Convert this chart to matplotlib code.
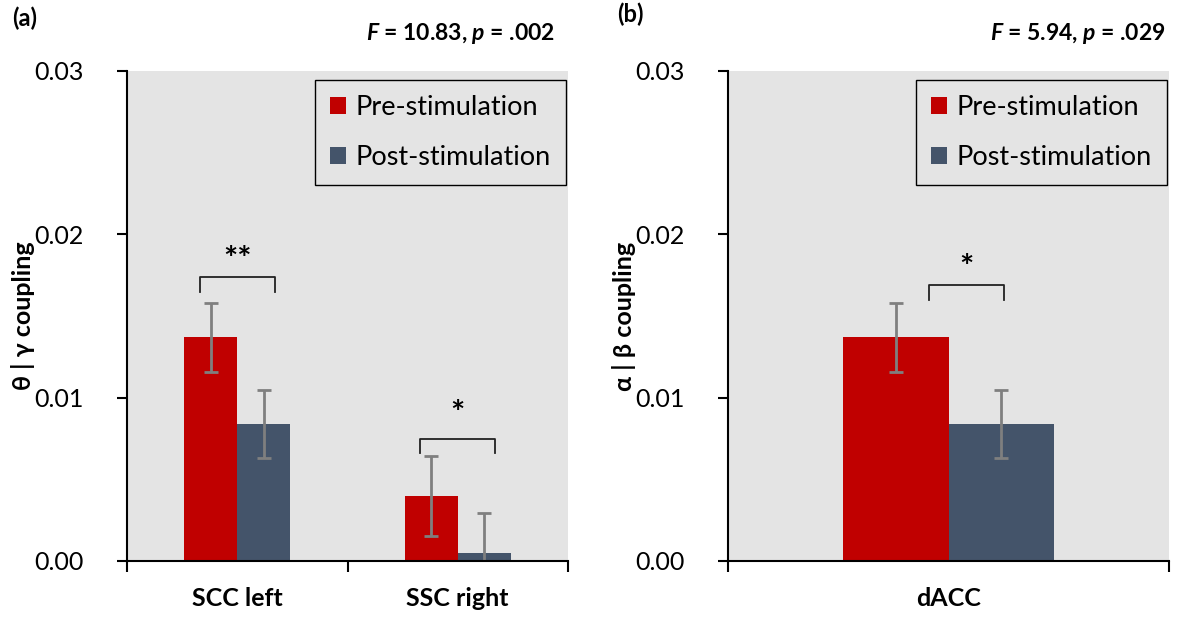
import matplotlib.pyplot as plt
import numpy as np

plt.rcParams['font.family'] = ['Lato', 'DejaVu Sans']
plt.rcParams['mathtext.fontset'] = 'custom'
plt.rcParams['mathtext.rm'] = 'Lato'
plt.rcParams['mathtext.bf'] = 'Lato:bold'
plt.rcParams['mathtext.bfit'] = 'Lato:bold:italic'

# data
cats_a = ['SCC left', 'SSC right']
pre_a = [0.0137, 0.0040]
post_a = [0.0084, 0.0005]
pre_err_a = [0.0021, 0.00245]
post_err_a = [0.0021, 0.00245]

cats_b = ['dACC']
pre_b = [0.0137]
post_b = [0.0084]
pre_err_b = [0.0021]
post_err_b = [0.0021]

# significance brackets: (x0, x1, y_top, y_tip, label, label_x, label_y)
sig_a = [(-0.17, 0.17, 0.0174, 0.0165, '**', 0.0, 0.0184),
         (0.83, 1.17, 0.0075, 0.0066, '*', 1.0, 0.0090)]
sig_b = [(-0.044, 0.126, 0.0169, 0.0160, '*', 0.04, 0.0179)]

red = '#C00000'
blue = '#44546A'
bg = '#E4E4E4'
w = 0.24

fig = plt.figure(figsize=(11.77, 6.21), dpi=100)
ax1 = fig.add_axes([127/1177, 60/621, 441/1177, 490/621])
ax2 = fig.add_axes([728/1177, 60/621, 441/1177, 490/621])


def draw(ax, cats, pre, post, pre_err, post_err, sig, ylab):
    x = np.arange(len(cats))
    ax.set_facecolor(bg)
    ekw = dict(ecolor='#7F7F7F', elinewidth=2, capsize=5, capthick=2)
    ax.bar(x - w/2, pre, w, yerr=pre_err, color=red, label='Pre-stimulation', error_kw=ekw, zorder=2)
    ax.bar(x + w/2, post, w, yerr=post_err, color=blue, label='Post-stimulation', error_kw=ekw, zorder=2)
    ax.set_xlim(-0.5, len(cats) - 0.5)
    ax.set_ylim(0, 0.03)
    ax.set_yticks([0, 0.01, 0.02, 0.03])
    ax.set_yticklabels(['0.00', '0.01', '0.02', '0.03'], fontsize=18)
    ax.set_xticks(np.arange(len(cats) + 1) - 0.5)
    ax.set_xticklabels([])
    ax.set_xticks(x, minor=True)
    ax.set_xticklabels(cats, minor=True, fontsize=18, fontweight='bold')
    ax.tick_params(axis='x', which='minor', length=0, pad=19)
    ax.tick_params(axis='x', which='major', length=8, width=1.5)
    ax.tick_params(axis='y', length=7, width=1.5, pad=24)
    for s in ['top', 'right']:
        ax.spines[s].set_visible(False)
    for s in ['left', 'bottom']:
        ax.spines[s].set_linewidth(1.5)
    ax.set_ylabel(ylab, fontsize=18, fontweight='bold', labelpad=0)
    for x0, x1, yt, yb, lab, lx, ly in sig:
        ax.plot([x0, x0, x1, x1], [yb, yt, yt, yb], color='#222222', lw=1.3, zorder=3)
        ax.text(lx, ly, lab, ha='center', va='center', fontsize=24, fontweight='bold')
    ax.legend(loc='upper right', bbox_to_anchor=(0.995, 0.982), fontsize=19.5,
              fancybox=False, facecolor=bg, edgecolor='black', framealpha=1,
              handlelength=0.6, handleheight=0.6, handletextpad=0.35,
              labelspacing=0.95, borderpad=0.55, borderaxespad=0)


draw(ax1, cats_a, pre_a, post_a, pre_err_a, post_err_a, sig_a, 'θ | γ coupling')
draw(ax2, cats_b, pre_b, post_b, pre_err_b, post_err_b, sig_b, 'α | β coupling')

fig.text(12/1177, 1 - 18/621, '(a)', fontsize=17, fontweight='bold', va='center')
fig.text(617/1177, 1 - 14/621, '(b)', fontsize=17, fontweight='bold', va='center')
fig.text(555/1177, 1 - 34/621, r'$\mathbfit{F}$ = 10.83, $\mathbfit{p}$ = .002',
         fontsize=16.5, fontweight='bold', ha='right', va='center')
fig.text(1165/1177, 1 - 34/621, r'$\mathbfit{F}$ = 5.94, $\mathbfit{p}$ = .029',
         fontsize=16.5, fontweight='bold', ha='right', va='center')

fig.savefig('out.png', dpi=100)
